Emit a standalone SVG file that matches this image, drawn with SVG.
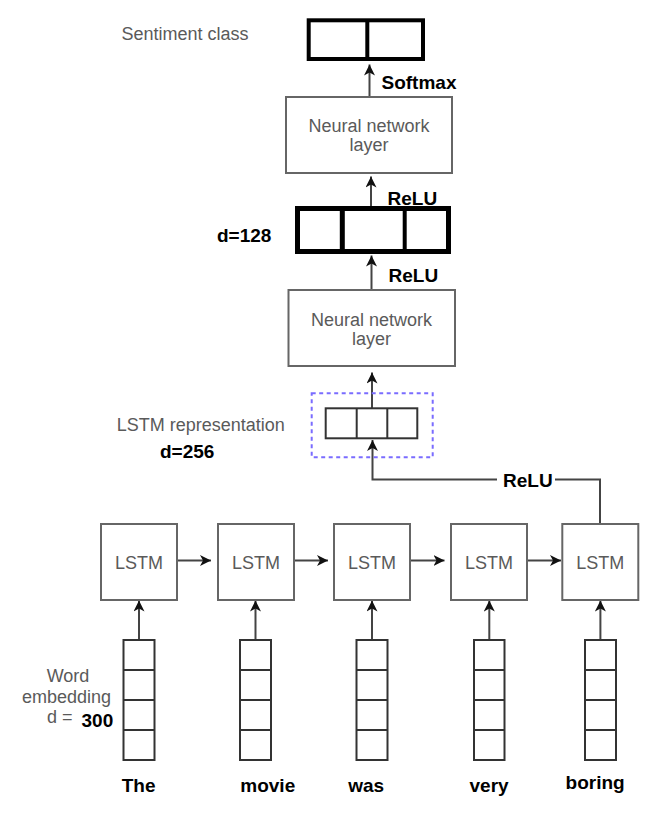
<svg xmlns="http://www.w3.org/2000/svg" width="667" height="826" viewBox="0 0 667 826">
  <defs>
    <style>
      .lbl { font-family: "Liberation Sans", Arial, sans-serif; font-size: 18px; fill: #5a5a5a; }
      .mid { text-anchor: middle; }
      .bold { font-family: "Liberation Sans", Arial, sans-serif; font-size: 19px; font-weight: bold; fill: #000; }
      .box { fill: #fff; stroke: #666; stroke-width: 2; }
      .cell { fill: #fff; stroke: #333; stroke-width: 2; }
      .thick { fill: #fff; stroke: #000; }
      .div { stroke: #333; stroke-width: 2; }
      .conn { fill: none; stroke: #444; stroke-width: 2; }
      .dash { fill: none; stroke: #7a6cff; stroke-width: 2; stroke-dasharray: 4 3.5; }
    </style>
    <marker id="arr" markerUnits="userSpaceOnUse" markerWidth="12" markerHeight="11" viewBox="0 0 12 11" refX="11" refY="5.5" orient="auto">
      <path d="M0,0 L11,5.5 L0,11 L3,5.5 Z" fill="#111"/>
    </marker>
  </defs>

  <g id="connectors">
    <line class="conn" x1="369.5" y1="97" x2="369.5" y2="64.5" marker-end="url(#arr)"/>
    <line class="conn" x1="371" y1="206" x2="371" y2="176.5" marker-end="url(#arr)"/>
    <line class="conn" x1="371.5" y1="290" x2="371.5" y2="255.5" marker-end="url(#arr)"/>
    <line class="conn" x1="372" y1="408" x2="372" y2="372.5" marker-end="url(#arr)"/>
    <path class="conn" d="M600,524 V479.5 H555"/>
    <path class="conn" d="M497,479.5 H372.5 V440" marker-end="url(#arr)"/>
    <line class="conn" x1="177" y1="560.5" x2="211" y2="560.5" marker-end="url(#arr)"/>
    <line class="conn" x1="294" y1="560.5" x2="328" y2="560.5" marker-end="url(#arr)"/>
    <line class="conn" x1="410" y1="560.5" x2="444.5" y2="560.5" marker-end="url(#arr)"/>
    <line class="conn" x1="527" y1="560.5" x2="561" y2="560.5" marker-end="url(#arr)"/>
    <line class="conn" x1="139" y1="640" x2="139" y2="600.5" marker-end="url(#arr)"/>
    <line class="conn" x1="255.5" y1="640" x2="255.5" y2="600.5" marker-end="url(#arr)"/>
    <line class="conn" x1="372" y1="640" x2="372" y2="600.5" marker-end="url(#arr)"/>
    <line class="conn" x1="489.3" y1="640" x2="489.3" y2="600.5" marker-end="url(#arr)"/>
    <line class="conn" x1="600.4" y1="640" x2="600.4" y2="600.5" marker-end="url(#arr)"/>
  </g>

  <g id="label-relu-lstm"><text class="bold" x="503" y="487">ReLU</text></g>
  <g id="label-softmax"><text class="bold" x="381.5" y="88.5">Softmax</text></g>
  <g id="label-relu-top"><text class="bold" x="387.5" y="204.5">ReLU</text></g>
  <g id="label-relu-mid"><text class="bold" x="388.5" y="282">ReLU</text></g>

  <g id="sentiment-class">
    <text class="lbl" x="121.5" y="40">Sentiment class</text>
    <rect class="thick" x="308.7" y="20.3" width="114.3" height="38.7" stroke-width="4"/>
    <line x1="367.3" y1="20" x2="367.3" y2="59" stroke="#000" stroke-width="4"/>
  </g>

  <g id="nn-layer-top">
    <rect class="box" x="286" y="97" width="166" height="76"/>
    <text class="lbl mid" x="369" y="132">Neural network</text>
    <text class="lbl mid" x="369" y="151">layer</text>
  </g>

  <g id="dense-128">
    <text class="bold" x="217" y="242.3">d=128</text>
    <rect class="thick" x="297.5" y="208.5" width="151" height="43" stroke-width="5"/>
    <line x1="342.3" y1="208" x2="342.3" y2="252" stroke="#000" stroke-width="5"/>
    <line x1="404.7" y1="208" x2="404.7" y2="252" stroke="#000" stroke-width="4"/>
  </g>

  <g id="nn-layer-bottom">
    <rect class="box" x="288.5" y="290" width="166.5" height="76"/>
    <text class="lbl mid" x="371.5" y="325.5">Neural network</text>
    <text class="lbl mid" x="371.5" y="345">layer</text>
  </g>

  <g id="lstm-representation">
    <text class="lbl" x="116.7" y="430.7">LSTM representation</text>
    <text class="bold" x="160" y="458.3">d=256</text>
    <rect class="dash" x="311.7" y="393.3" width="121" height="64"/>
    <rect class="cell" x="325.7" y="408.3" width="91.6" height="30"/>
    <line class="div" x1="356.7" y1="408.3" x2="356.7" y2="438.3"/>
    <line class="div" x1="387.3" y1="408.3" x2="387.3" y2="438.3"/>
  </g>

  <g id="lstm-1"><rect class="box" x="101" y="524" width="76" height="76"/><text class="lbl mid" x="139" y="569">LSTM</text></g>
  <g id="lstm-2"><rect class="box" x="218" y="524" width="76" height="76"/><text class="lbl mid" x="256" y="569">LSTM</text></g>
  <g id="lstm-3"><rect class="box" x="334" y="524" width="76" height="76"/><text class="lbl mid" x="372" y="569">LSTM</text></g>
  <g id="lstm-4"><rect class="box" x="451" y="524" width="76" height="76"/><text class="lbl mid" x="489" y="569">LSTM</text></g>
  <g id="lstm-5"><rect class="box" x="562.3" y="524" width="76" height="76"/><text class="lbl mid" x="600.3" y="569">LSTM</text></g>

  <g id="embedding-label">
    <text class="lbl mid" x="68" y="682">Word</text>
    <text class="lbl mid" x="66.5" y="703">embedding</text>
    <text class="lbl" x="47" y="723">d =</text>
    <text class="bold" x="81.5" y="727">300</text>
  </g>

  <g id="emb-1">
    <rect class="cell" x="123.5" y="640" width="31" height="120"/>
    <line class="div" x1="123.5" y1="670" x2="154.5" y2="670"/><line class="div" x1="123.5" y1="700" x2="154.5" y2="700"/><line class="div" x1="123.5" y1="730" x2="154.5" y2="730"/>
    <text class="bold" x="121.7" y="792">The</text>
  </g>
  <g id="emb-2">
    <rect class="cell" x="240" y="640" width="31" height="120"/>
    <line class="div" x1="240" y1="670" x2="271" y2="670"/><line class="div" x1="240" y1="700" x2="271" y2="700"/><line class="div" x1="240" y1="730" x2="271" y2="730"/>
    <text class="bold" x="240.3" y="792">movie</text>
  </g>
  <g id="emb-3">
    <rect class="cell" x="356.5" y="640" width="31" height="120"/>
    <line class="div" x1="356.5" y1="670" x2="387.5" y2="670"/><line class="div" x1="356.5" y1="700" x2="387.5" y2="700"/><line class="div" x1="356.5" y1="730" x2="387.5" y2="730"/>
    <text class="bold" x="348.2" y="792">was</text>
  </g>
  <g id="emb-4">
    <rect class="cell" x="474" y="640" width="30.5" height="120"/>
    <line class="div" x1="474" y1="670" x2="504.5" y2="670"/><line class="div" x1="474" y1="700" x2="504.5" y2="700"/><line class="div" x1="474" y1="730" x2="504.5" y2="730"/>
    <text class="bold" x="469.5" y="792">very</text>
  </g>
  <g id="emb-5">
    <rect class="cell" x="585" y="640" width="31" height="120"/>
    <line class="div" x1="585" y1="670" x2="616" y2="670"/><line class="div" x1="585" y1="700" x2="616" y2="700"/><line class="div" x1="585" y1="730" x2="616" y2="730"/>
    <text class="bold" x="565.6" y="788.5">boring</text>
  </g>
</svg>
